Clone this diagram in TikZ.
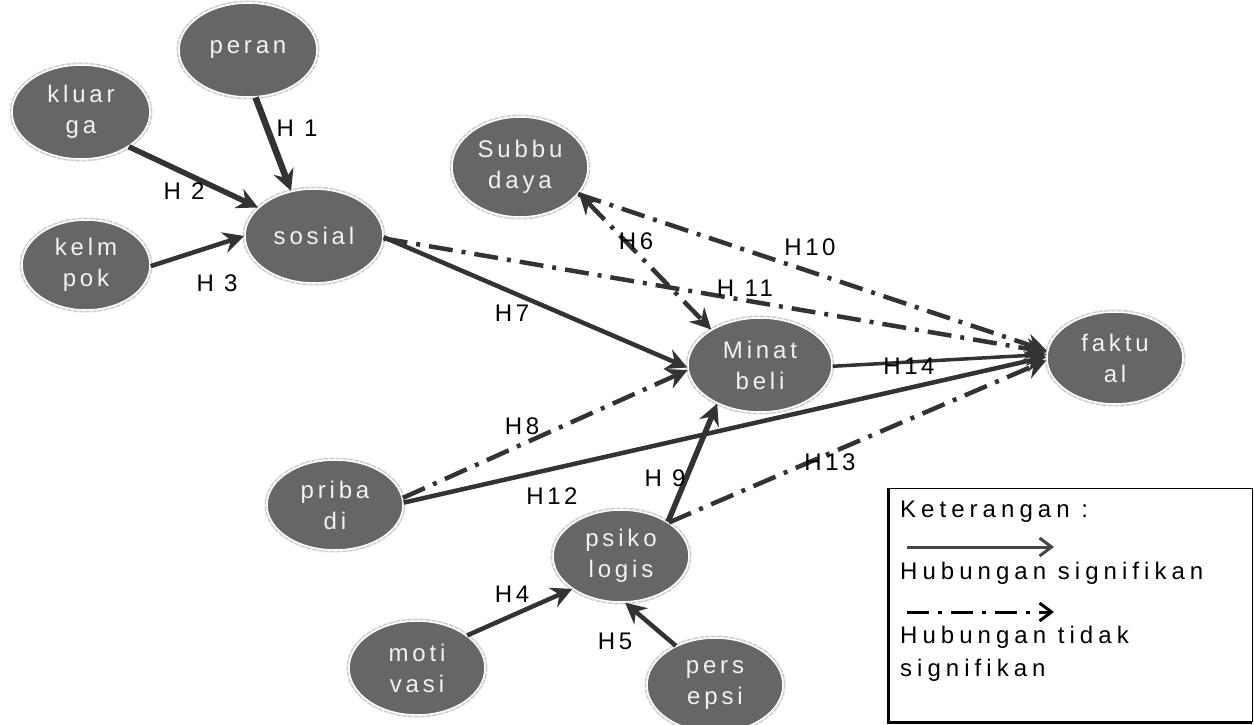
\documentclass[tikz,border=0pt]{standalone}
\usepackage{fontspec}
\setmainfont{Liberation Sans}
\newfontfamily\ellfont[LetterSpace=16]{Liberation Sans}
\newfontfamily\labfont[LetterSpace=15]{Liberation Sans}
\newfontfamily\legfont[LetterSpace=21]{Liberation Sans}
\usetikzlibrary{shapes.geometric,arrows.meta}
\definecolor{ellgray}{HTML}{666666}
\definecolor{txtgray}{HTML}{F2F2F2}
\definecolor{arr}{HTML}{333333}
\begin{document}
\begin{tikzpicture}[x=1pt,y=-1pt,
  ell/.style={ellipse, fill=ellgray, draw=white, line width=1.5pt,
    preaction={draw=black!18, densely dotted, line width=5pt},
    text=txtgray, inner sep=0pt, align=center,
    font=\ellfont\fontsize{24}{31}\selectfont,
    minimum width=138pt, minimum height=94pt},
  lab/.style={font=\labfont\fontsize{24}{28}\selectfont, text=black, inner sep=0pt},
  tip/.style={-{Stealth[length=21pt,width=21pt,inset=7pt]}},
  sig/.style={draw=arr, line width=4.5pt, tip},
  nsig/.style={draw=arr, line width=4.5pt, dash pattern=on 24pt off 9pt on 4pt off 9pt, tip},
  legtxt/.style={font=\legfont\fontsize{24}{28}\selectfont, anchor=west, inner sep=0pt}
]
\useasboundingbox (0,0) rectangle (1254,725);

% nodes
\node[ell] (peran) at (248,50) {peran};
\node[ell] (kluarga) at (81,112) {kluar\\ga};
\node[ell, minimum width=128pt, minimum height=90pt] (kelmpok) at (86,265) {kelm\\pok};
\node[ell] (sosial) at (314,236) {sosial};
\node[ell, minimum width=136pt, minimum height=100pt] (subbudaya) at (520,167) {Subbu\\daya};
\node[ell, minimum width=144pt] (minat) at (760,365) {Minat\\beli};
\node[ell, minimum width=136pt, minimum height=92pt] (faktual) at (1115,358) {faktu\\al};
\node[ell, minimum width=136pt, minimum height=90pt] (pribadi) at (335,505) {priba\\di};
\node[ell, minimum width=136pt, minimum height=92pt] (psiko) at (621,556) {psiko\\logis};
\node[ell, minimum width=136pt] (motivasi) at (417,668) {moti\\vasi};
\node[ell, minimum width=136pt] (persepsi) at (715,685) {pers\\epsi};

% non-significant connectors
\draw[nsig] (sosial.-2) -- (faktual.175);
\draw[nsig] (subbudaya.-25) -- (faktual.174);
\draw[nsig, {Stealth[length=21pt,width=21pt,inset=7pt]}-{Stealth[length=21pt,width=21pt,inset=7pt]}] (subbudaya.-24) -- (minat.144);
\draw[nsig] (pribadi.6.5) -- (minat.-176);
\draw[nsig] (psiko.35) -- (faktual.-178.5);

% significant connectors
\draw[sig, line width=6.5pt] (peran.-81) -- (sosial.117.5);
\draw[sig, line width=5.5pt] (kluarga.-36) -- (sosial.153);
\draw[sig] (kelmpok.-1) -- (sosial.180);
\draw[sig] (sosial.-1) -- (minat.-178);
\draw[sig] (pribadi.2.5) -- (faktual.179);
\draw[sig, line width=3.5pt] (minat.-1.5) -- (faktual.177.7);
\draw[sig, line width=5.5pt] (psiko.36.7) -- (minat.-138);
\draw[sig] (motivasi.33) -- (psiko.-146);
\draw[sig] (persepsi.135) -- (psiko.-85);

% labels
\node[lab] (l1) at (297,128) {H 1};
\node[lab] (l2) at (184,191) {H 2};
\node[lab] (l3) at (217,283) {H 3};
\node[lab] (l6) at (636,241) {H6};
\node[lab] (l7) at (512,313) {H7};
\node[lab] (l8) at (522,426) {H8};
\node[lab] (l9) at (665,478) {H 9};
\node[lab] (l10) at (810,247) {H10};
\node[lab] (l11) at (745,288) {H 11};
\node[lab] (l12) at (552,496) {H12};
\node[lab] (l13) at (830,462) {H13};
\node[lab] (l14) at (909,366) {H14};
\node[lab] (l4) at (512,594) {H4};
\node[lab] (l5) at (615,641) {H5};

% legend
\draw[black, line width=1pt] (887,488) -- (1252,488) -- (1252,722);
\draw[black, line width=3pt] (888,488) -- (888,722) -- (1252,722);
\node[legtxt] (k) at (900,512) {Keterangan :};
\coordinate (a1) at (907,547);
\coordinate (a2) at (1054,547);
\draw[draw=arr!90, line width=3pt, -{Straight Barb[length=12pt,width=18pt,line width=3pt]}] (a1) -- (a2);
\node[legtxt] (hs) at (900,573) {Hubungan signifikan};
\coordinate (b1) at (907,612);
\coordinate (b2) at (1054,612);
\draw[draw=black, line width=3pt, dash pattern=on 22pt off 9pt on 4pt off 9pt, -{Straight Barb[length=12pt,width=18pt,line width=3pt]}] (b1) -- (b2);
\node[legtxt] (ht) at (900,637) {Hubungan tidak};
\node[legtxt] (hs2) at (900,670) {signifikan};
\end{tikzpicture}
\end{document}
